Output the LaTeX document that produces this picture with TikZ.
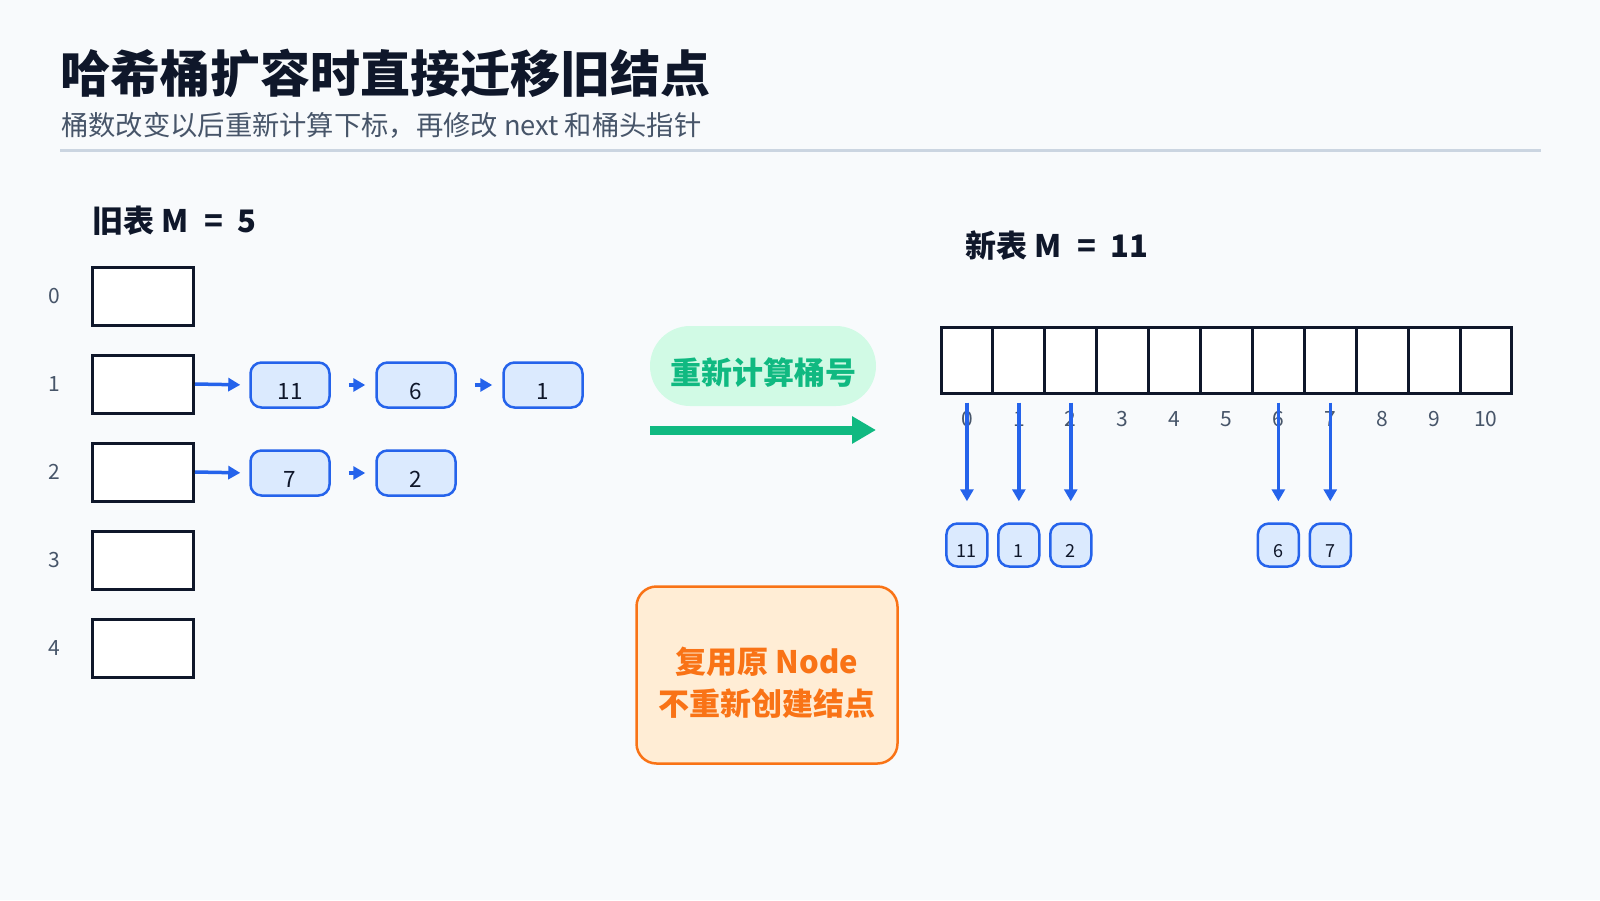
\documentclass[tikz,border=0pt]{standalone}
\usepackage{fontspec}
\setmainfont{Noto Sans CJK SC}
\usetikzlibrary{arrows.meta}
\definecolor{navy}{HTML}{0F172A}
\definecolor{slate}{HTML}{475569}
\definecolor{rulec}{HTML}{CBD5E1}
\definecolor{blu}{HTML}{2563EB}
\definecolor{blufill}{HTML}{DBEAFE}
\definecolor{grn}{HTML}{10B981}
\definecolor{grnfill}{HTML}{D1FAE5}
\definecolor{org}{HTML}{F97316}
\definecolor{orgfill}{HTML}{FFEDD5}
\definecolor{bg}{HTML}{F8FAFC}
\newcommand{\lowdigit}[2]{\raisebox{-#1}[0pt][0pt]{#2}}
\begin{document}
\begin{tikzpicture}[x=1pt,y=-1pt,
  oldbox/.style={draw=navy, line width=3pt, fill=white, minimum width=101pt, minimum height=58pt, inner sep=0pt},
  cell/.style={draw=navy, line width=3pt, fill=white, minimum width=51.9pt, minimum height=66pt, inner sep=0pt},
  idx/.style={text=slate, font=\fontsize{21pt}{25pt}\selectfont, inner sep=0pt},
  chainnode/.style={draw=blu, line width=2.5pt, fill=blufill, rounded corners=11pt, minimum width=79pt, minimum height=45pt, inner sep=0pt, text=navy, font=\fontsize{22.5pt}{26pt}\selectfont},
  smallnode/.style={draw=blu, line width=2.5pt, fill=blufill, rounded corners=11pt, minimum width=41pt, minimum height=43pt, inner sep=0pt, text=navy, font=\fontsize{18pt}{22pt}\selectfont},
  barrow/.style={draw=blu, line width=3.5pt, -{Triangle[length=12pt,width=13pt]}},
  heading/.style={anchor=base west, inner sep=0pt, text=navy, font=\fontsize{31pt}{36pt}\selectfont\bfseries}
]
\useasboundingbox (0,0) rectangle (1600,900);
\fill[bg] (0,0) rectangle (1600,900);

% title
\node[anchor=base west, inner sep=0pt, text=navy, font=\fontsize{50pt}{60pt}\selectfont\bfseries] (title) at (60,92) {哈希桶扩容时直接迁移旧结点};
\node[anchor=base west, inner sep=0pt, text=slate, font=\fontsize{27.3pt}{32pt}\selectfont] (subtitle) at (61,135) {桶数改变以后重新计算下标，再修改 next 和桶头指针};
\coordinate (r1) at (60,150);
\coordinate (r2) at (1541,150);
\draw[rulec, line width=3pt] (r1) -- (r2);

% old table
\node[heading] (oldh) at (92,232) {旧表\hspace{7pt}M\hspace{16pt}=\hspace{14pt}5};
\foreach \i in {0,...,4} {
  \node[oldbox] (o\i) at (143,{296+88*\i}) {};
  \node[idx] (oi\i) at (54,{296+88*\i}) {\i};
}

% chains
\node[chainnode] (c11) at (290,385) {\lowdigit{14pt}{11}};
\node[chainnode] (c6) at (416,385) {\lowdigit{14pt}{6}};
\node[chainnode] (c1) at (543,385) {\lowdigit{14pt}{1}};
\node[chainnode] (c7) at (290,473) {\lowdigit{14pt}{7}};
\node[chainnode] (c2) at (416,473) {\lowdigit{14pt}{2}};
\draw[barrow, shorten >=9pt] (o1.east) -- (c11.west);
\draw[barrow, shorten <=18pt, shorten >=10pt] (c11.east) -- (c6.west);
\draw[barrow, shorten <=18pt, shorten >=10pt] (c6.east) -- (c1.west);
\draw[barrow, shorten >=9pt] (o2.east) -- (c7.west);
\draw[barrow, shorten <=18pt, shorten >=10pt] (c7.east) -- (c2.west);

% green pill and arrow
\node[fill=grnfill, rounded corners=40pt, minimum width=226pt, minimum height=80pt, inner sep=0pt,
  label={[text=grn, font=\fontsize{31pt}{36pt}\selectfont\bfseries, yshift=-7pt, inner sep=0pt]center:重新计算桶号}] (pill) at (763,366) {};
\coordinate (ga1) at (650,430);
\coordinate (ga2) at (876,430);
\draw[grn, line width=9pt, -{Triangle[length=24pt,width=26pt]}] (ga1) -- (ga2);

% new table
\node[heading] (newh) at (965,257) {新表\hspace{7pt}M\hspace{16pt}=\hspace{14pt}11};
\foreach \i in {0,...,10} {
  \node[cell] (n\i) at ({941+51.9*(\i+0.5)},360) {};
  \node[idx] (ni\i) at ({941+51.9*(\i+0.5)},419) {\i};
}
\foreach \i/\v in {0/11,1/1,2/2,6/6,7/7} {
  \node[smallnode] (s\i) at ({941+51.9*(\i+0.5)},545) {\lowdigit{12.5pt}{\v}};
  \draw[barrow, shorten <=8pt, shorten >=21pt] (n\i.south) -- (s\i.north);
}

% orange box
\node[draw=org, line width=2.5pt, fill=orgfill, rounded corners=20pt, minimum width=261pt, minimum height=177pt, inner sep=0pt,
  label={[text=org, align=center, inner sep=0pt, yshift=-8pt, font=\fontsize{31pt}{42pt}\selectfont\bfseries]center:复用原 Node\\不重新创建结点}] (reuse) at (767,675) {};
\end{tikzpicture}
\end{document}
